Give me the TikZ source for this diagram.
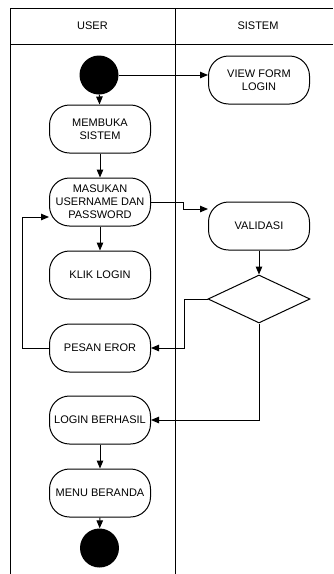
\documentclass[tikz,border=0pt]{standalone}
\usepackage{fontspec}
\setmainfont{Liberation Sans}
\usetikzlibrary{shapes.geometric,arrows.meta}
\tikzstyle{activity}=[rectangle, draw, rounded corners=20pt, line width=1pt, minimum width=101pt, minimum height=48pt, align=center, font=\fontsize{11}{13}\selectfont, inner sep=1pt]
\tikzstyle{decision}=[diamond, draw, line width=1pt, minimum width=102pt, minimum height=48pt, inner sep=0pt]
\tikzstyle{dot}=[circle, fill=black, minimum size=39pt, inner sep=0pt]
\tikzstyle{flow}=[line width=1pt, -{Triangle[length=8pt, width=6.5pt]}]
\tikzstyle{lane}=[line width=1pt]

\begin{document}
\begin{tikzpicture}[x=1pt, y=-1pt]
    \useasboundingbox (0,0) rectangle (333,574);
    % swimlanes
    \draw[lane] (10,574) -- (10,8) -- (333,8);
    \draw[lane] (10,44) -- (333,44);
    \draw[lane] (175,8) -- (175,574);
    \node[font=\fontsize{11}{13}\selectfont] (user) at (92.5,26) {USER};
    \node[font=\fontsize{11}{13}\selectfont] (sistem) at (258,26) {SISTEM};
    % user lane
    \node[dot] (start) at (99,75) {};
    \node[activity] (buka) at (100,129) {MEMBUKA\\SISTEM};
    \node[activity] (masuk) at (100,202) {MASUKAN\\USERNAME DAN\\PASSWORD};
    \node[activity] (klik) at (100,275) {KLIK LOGIN};
    \node[activity] (pesan) at (100,348) {PESAN EROR};
    \node[activity] (berhasil) at (100,420) {LOGIN BERHASIL};
    \node[activity] (menu) at (100,493) {MENU BERANDA};
    \node[dot] (finish) at (99.5,548) {};
    % sistem lane
    \node[activity] (view) at (259,80) {VIEW FORM\\LOGIN};
    \node[activity] (validasi) at (259,226) {VALIDASI};
    \node[decision] (cek) at (259,299) {};
    % flows
    \draw[flow] (start) -- (start -| view.west);
    \draw[flow] (start) -- (buka);
    \draw[flow] (buka) -- (masuk);
    \draw[flow] (masuk) -- (klik);
    \draw[flow] (masuk.east) -- ++(32,0) |- ([yshift=17pt]validasi.west);
    \draw[flow] (validasi) -- (cek);
    \draw[flow] (cek.west) -- ++(-23,0) |- (pesan.east);
    \draw[flow] (cek.south) |- (berhasil.east);
    \draw[flow] (pesan.west) -- ++(-27,0) |- ([yshift=-15pt]masuk.west);
    \draw[flow] (berhasil) -- (menu);
    \draw[flow] (menu) -- (finish);
\end{tikzpicture}
\end{document}
